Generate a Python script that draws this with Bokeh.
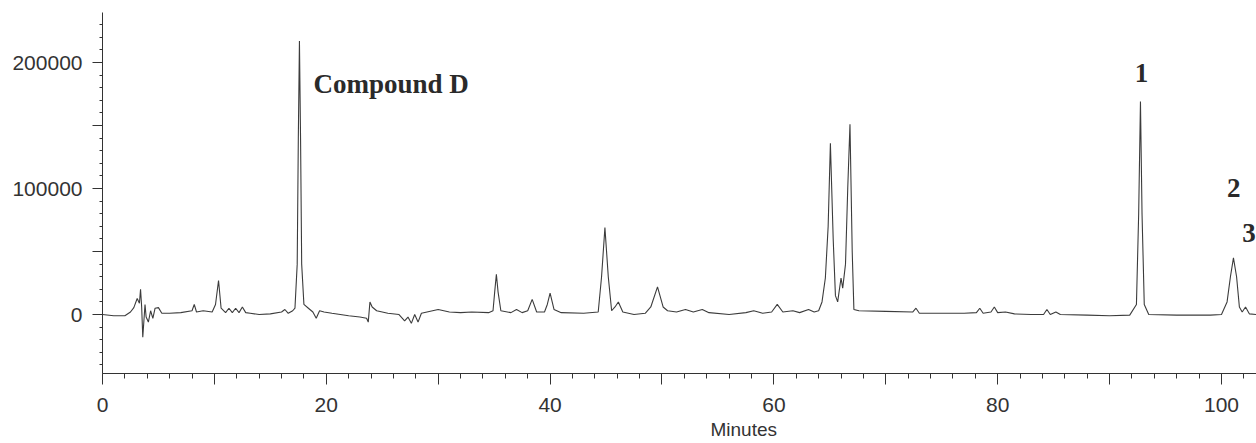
from bokeh.plotting import figure
from bokeh.models import FixedTicker, Label, Range1d, BasicTickFormatter, Title
from bokeh.embed import file_html
from bokeh.resources import INLINE

# Chromatogram trace (minutes, detector response)
times = [0.0, 1.0, 2.0, 2.5, 2.8, 3.1, 3.3, 3.4, 3.5, 3.6, 3.7, 3.8, 3.9, 4.1, 4.3, 4.5, 4.7, 5.0, 5.3,
         6.0, 7.0, 8.0, 8.2, 8.4, 9.0, 9.8, 10.1, 10.37, 10.6, 11.0, 11.3, 11.6, 11.9, 12.2, 12.5, 12.8, 13.2,
         14.0, 15.0, 16.0, 16.3, 16.6, 17.0, 17.2, 17.4, 17.5, 17.6, 17.7, 17.8, 18.0, 18.4, 18.8, 19.1,
         19.4, 19.8, 20.5, 22.0, 23.0, 23.6, 23.75, 23.9, 24.1, 24.5, 25.5, 26.5, 27.0, 27.3, 27.6, 27.9,
         28.2, 28.5, 29.0, 30.0, 31.0, 32.0, 33.0, 34.5, 34.9, 35.05, 35.2, 35.35, 35.6, 36.5, 37.0, 37.5,
         38.0, 38.4, 38.8, 39.5, 39.75, 40.0, 40.35, 41.0, 43.0, 44.3, 44.6, 44.9, 45.2, 45.5, 45.8, 46.1,
         46.5, 47.5, 48.5, 49.0, 49.6, 50.1, 50.5, 51.3, 52.1, 52.8, 53.6, 54.2, 56.0, 57.5, 58.2, 59.0,
         59.8, 60.3, 60.8, 61.7, 62.3, 63.1, 63.6, 64.0, 64.3, 64.6, 64.85, 65.05, 65.3, 65.5, 65.7, 66.0,
         66.15, 66.4, 66.6, 66.8, 67.0, 67.15, 67.6, 70.0, 72.4, 72.7, 73.0, 75.0, 77.0, 78.1, 78.4, 78.7,
         79.4, 79.7, 80.0, 80.7, 81.5, 83.0, 84.1, 84.4, 84.7, 85.2, 85.6, 88.0, 90.0, 91.8, 92.4, 92.6,
         92.76, 92.9, 93.1, 93.5, 96.0, 99.0, 100.0, 100.5, 100.8, 101.07, 101.35, 101.6, 101.85, 102.15,
         102.5, 103.1]
signal = [0, -1000, -1000, 2000, 5500, 12700, 9000, 20000, 6000, -18000, -5000, 8000, -2000, -6000, 3000,
          -3000, 5000, 5500, 1000, 1000, 1500, 3000, 8000, 2000, 3000, 2000, 8000, 27000, 5000, 1500, 5000,
          1500, 5000, 1500, 6000, 1500, 1000, 0, 500, 2000, 4000, 1000, 3000, 5000, 40000, 140000, 217000,
          140000, 40000, 8000, 5000, 2000, -3000, 3000, 2000, 1000, -1000, -2000, -3000, -6000, 10000, 6000,
          3000, 1000, 0, -5000, -2000, -7000, 0, -6000, 1000, 2000, 4000, 2000, 1500, 2000, 1500, 3000,
          18000, 32000, 18000, 3000, 1500, 4000, 1500, 3000, 12000, 2000, 2000, 8000, 17000, 4000, 1500, 1000,
          2000, 30000, 69000, 30000, 3000, 6000, 10000, 2000, 0, 1000, 6000, 22000, 6000, 3000, 2000, 4000,
          2000, 4000, 1500, 0, 1500, 3000, 1000, 2000, 8000, 2000, 3000, 1500, 4000, 2000, 3000, 10000,
          29000, 70000, 136000, 60000, 15000, 10000, 29000, 21000, 40000, 100000, 151000, 50000, 4000, 3000,
          2500, 2000, 5000, 1000, 1000, 1000, 1500, 5000, 1000, 2000, 6000, 1500, 2000, 500, 0, 0, 4000, 0,
          2000, 0, -500, -1000, -500, 8000, 80000, 169000, 80000, 8000, 0, -500, -500, 0, 10000, 30000, 45000,
          30000, 6000, 2000, 6000, 500, 0]

x_major = [0, 10, 20, 30, 40, 50, 60, 70, 80, 90, 100]
x_labels = {10: "", 30: "", 50: "", 70: "", 90: ""}
y_major = [0, 50000, 100000, 150000, 200000]
y_labels = {0: "0", 50000: "", 100000: "100000", 150000: "", 200000: "200000"}

peak_names = ["Compound D", "1", "2", "3"]

p = figure(width=1256, height=443, x_range=Range1d(0, 103.13), y_range=Range1d(-46800, 239700),
           output_backend="svg", toolbar_location=None,
           min_border_left=102, min_border_right=0, min_border_top=12, min_border_bottom=70)
p.grid.visible = False
p.outline_line_color = None
p.background_fill_color = "white"

p.line(times, signal, line_color="#3c3c3c", line_width=1.1)

ink = "#333333"
xa = p.xaxis[0]
xa.ticker = FixedTicker(ticks=x_major, minor_ticks=list(range(0, 104, 2)))
xa.major_label_overrides = x_labels
xa.major_tick_out = 11
xa.major_tick_in = 0
xa.minor_tick_out = 5
xa.minor_tick_in = 0
xa.major_label_standoff = 13
ya = p.yaxis[0]
ya.ticker = FixedTicker(ticks=y_major, minor_ticks=list(range(-40000, 240000, 10000)))
ya.formatter = BasicTickFormatter(use_scientific=False)
ya.major_label_overrides = y_labels
ya.major_tick_out = 10
ya.major_tick_in = 0
ya.minor_tick_out = 3
ya.minor_tick_in = 0
ya.major_label_standoff = 10
for ax in (xa, ya):
    ax.axis_line_color = ink
    ax.major_tick_line_color = ink
    ax.minor_tick_line_color = ink
    ax.major_label_text_font = "Liberation Sans"
    ax.major_label_text_font_size = "21px"
    ax.major_label_text_color = ink
ya.major_label_orientation = "horizontal"

serif = dict(text_font="Liberation Serif", text_font_style="bold", text_font_size="27px",
             text_color="#2a2a2a", text_baseline="alphabetic")
p.add_layout(Label(x=18.86, y=183300, text=peak_names[0], text_align="left", **serif))
p.add_layout(Label(x=92.85, y=191300, text=peak_names[1], text_align="center", **serif))
p.add_layout(Label(x=101.1, y=100800, text=peak_names[2], text_align="center", **serif))
p.add_layout(Label(x=102.45, y=65100, text=peak_names[3], text_align="center", **serif))

xtitle = Title(text="Minutes", align="left", offset=608, standoff=5,
               text_font="Liberation Sans", text_font_size="19px", text_font_style="normal",
               text_color=ink)
p.add_layout(xtitle, "below")

open("out.html", "w").write(file_html(p, INLINE))
